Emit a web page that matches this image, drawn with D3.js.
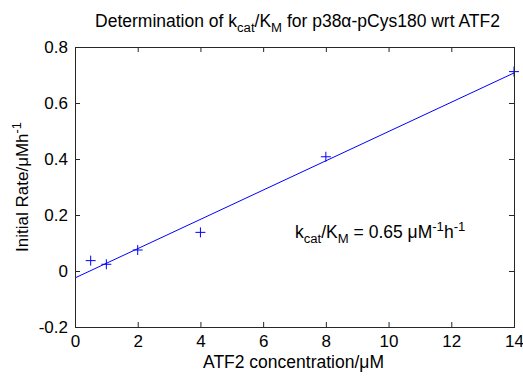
<!DOCTYPE html>
<html>
<head>
<meta charset="utf-8">
<script src="https://cdn.jsdelivr.net/npm/d3@7"></script>
<style>
  html, body { margin: 0; padding: 0; background: #fff; }
  svg { display: block; font-family: "Liberation Sans", Arial, Helvetica, sans-serif; }
</style>
</head>
<body>
<svg id="chart" width="523" height="378"></svg>
<script>
// ATF2 concentration (µM) and measured initial rates (µM/h)
const concentration = [0.5, 1, 2, 4, 8, 14];
const initialRate = [0.037, 0.024, 0.075, 0.138, 0.408, 0.712];

const xTicks = [0, 2, 4, 6, 8, 10, 12, 14];
const yTicks = [-0.2, 0, 0.2, 0.4, 0.6, 0.8];
const xDomain = [0, 14];
const yDomain = [-0.2, 0.8];

const width = 523, height = 378;
const margin = { top: 47, right: 9, bottom: 51, left: 75 };
const plotW = width - margin.left - margin.right;
const plotH = height - margin.top - margin.bottom;

const svg = d3.select("#chart");
const axisColor = "#262626";
const markColor = "#0000ff";

const x = d3.scaleLinear().domain(xDomain).range([0, plotW]);
const y = d3.scaleLinear().domain(yDomain).range([plotH, 0]);

const g = svg.append("g").attr("transform", `translate(${margin.left},${margin.top})`);

// Least-squares line through the measured rates
const mx = d3.mean(concentration), my = d3.mean(initialRate);
let sxy = 0, sxx = 0;
concentration.forEach((c, i) => {
  sxy += (c - mx) * (initialRate[i] - my);
  sxx += (c - mx) * (c - mx);
});
const slope = sxy / sxx;
const intercept = my - slope * mx;
const fitLine = xDomain.map(c => [c, intercept + slope * c]);

g.append("clipPath").attr("id", "plotClip")
  .append("rect").attr("width", plotW).attr("height", plotH);

g.append("path")
  .datum(fitLine)
  .attr("clip-path", "url(#plotClip)")
  .attr("fill", "none")
  .attr("stroke", markColor)
  .attr("stroke-width", 1)
  .attr("d", d3.line().x(d => x(d[0])).y(d => y(d[1])));

// '+' markers for each measurement
const arm = 5;
const pts = g.append("g").attr("stroke", markColor).attr("stroke-width", 1).attr("fill", "none");
concentration.forEach((c, i) => {
  const px = x(c), py = y(initialRate[i]);
  pts.append("path").attr("d", `M${px - arm},${py}H${px + arm}M${px},${py - arm}V${py + arm}`);
});

// Boxed axes with inward ticks on all four sides
const tickLen = 5;
const tickFont = 17;
function styleAxis(sel) {
  sel.select(".domain").remove();
  sel.selectAll(".tick line").attr("stroke", axisColor);
  sel.selectAll(".tick text").attr("fill", "#000").style("font-size", tickFont + "px");
}
const yFmt = d => String(Math.round(d * 10) / 10);

g.append("g").attr("transform", `translate(0,${plotH})`)
  .call(d3.axisBottom(x).tickValues(xTicks).tickSize(-tickLen).tickPadding(8).tickFormat(d => String(d)))
  .call(styleAxis);
g.append("g")
  .call(d3.axisTop(x).tickValues(xTicks).tickSize(-tickLen).tickFormat(""))
  .call(styleAxis);
g.append("g")
  .call(d3.axisLeft(y).tickValues(yTicks).tickSize(-tickLen).tickPadding(7).tickFormat(yFmt))
  .call(styleAxis);
g.append("g").attr("transform", `translate(${plotW},0)`)
  .call(d3.axisRight(y).tickValues(yTicks).tickSize(-tickLen).tickFormat(""))
  .call(styleAxis);

g.append("rect")
  .attr("width", plotW).attr("height", plotH)
  .attr("fill", "none").attr("stroke", axisColor).attr("stroke-width", 1)
  .attr("shape-rendering", "crispEdges");

// Rich text helper: parts of [text, kind]
function richText(sel, parts, size) {
  parts.forEach(([t, kind]) => {
    const ts = sel.append("tspan").text(t);
    if (kind === "sub") ts.attr("dy", size * 0.3).style("font-size", (size * 0.75) + "px");
    if (kind === "sup") ts.attr("dy", -size * 0.4).style("font-size", (size * 0.75) + "px");
    if (kind === "subEnd") ts.attr("dy", -size * 0.3);
    if (kind === "supEnd") ts.attr("dy", size * 0.4);
  });
}

// Title
const titleSize = 17.5;
const title = svg.append("text")
  .attr("x", margin.left + plotW / 2 + 3).attr("y", 27)
  .attr("text-anchor", "middle").style("font-size", titleSize + "px").attr("fill", "#000");
richText(title, [
  ["Determination of k", null], ["cat", "sub"], ["/K", "subEnd"], ["M", "sub"],
  [" for p38\u03b1-pCys180 wrt ATF2", "subEnd"]
], titleSize);

// Axis labels
svg.append("text")
  .attr("x", margin.left + plotW / 2 - 1).attr("y", 368)
  .attr("text-anchor", "middle").style("font-size", "17.5px").attr("fill", "#000")
  .text("ATF2 concentration/\u03bcM");

const yLabSize = 17;
const yLab = svg.append("text")
  .attr("transform", `translate(28,${margin.top + plotH / 2}) rotate(-90)`)
  .attr("text-anchor", "middle").style("font-size", yLabSize + "px").attr("fill", "#000");
richText(yLab, [["Initial Rate/\u03bcMh", null], ["-1", "sup"]], yLabSize);

// Rate constant annotation
const noteSize = 17.5;
const note = svg.append("text")
  .attr("x", 295).attr("y", 238)
  .style("font-size", noteSize + "px").attr("fill", "#000");
richText(note, [
  ["k", null], ["cat", "sub"], ["/K", "subEnd"], ["M", "sub"],
  [" = 0.65 \u03bcM", "subEnd"], ["-1", "sup"], ["h", "supEnd"], ["-1", "sup"]
], noteSize);
</script>
</body>
</html>
